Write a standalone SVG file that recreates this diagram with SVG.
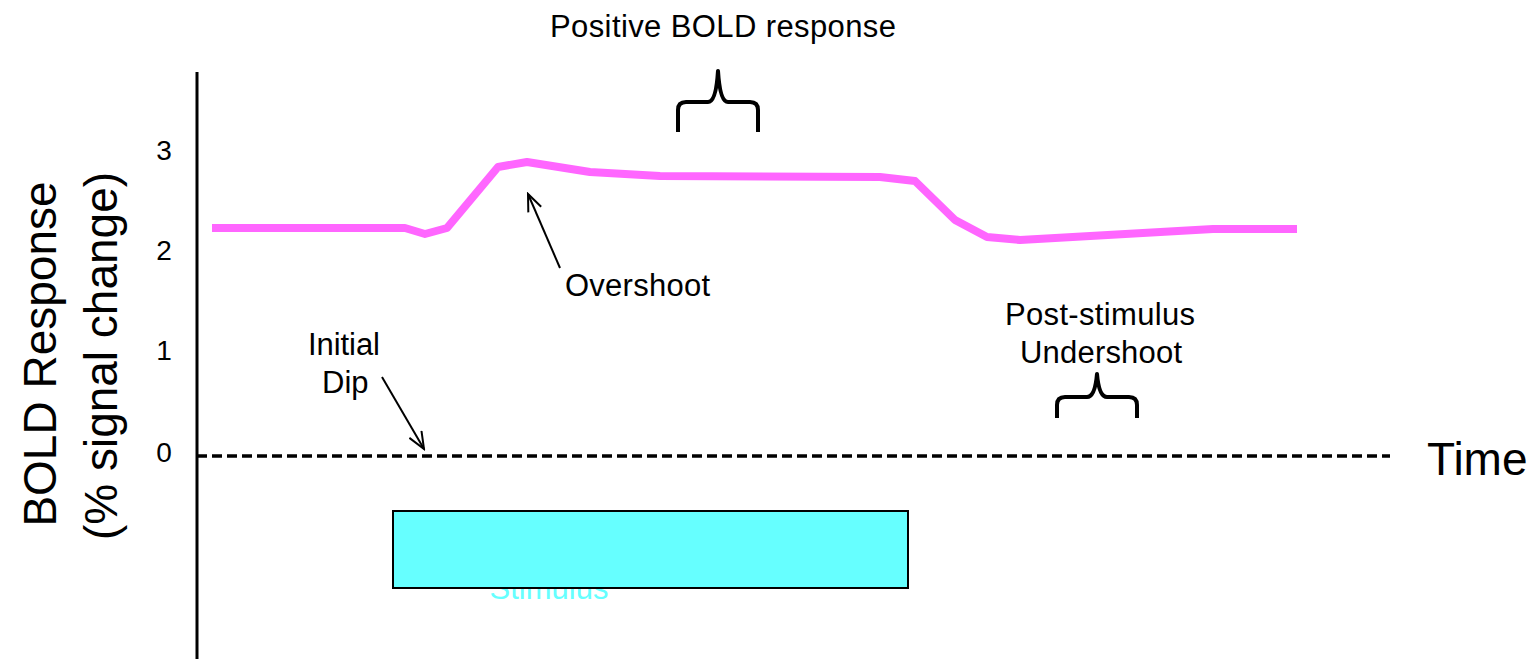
<svg xmlns="http://www.w3.org/2000/svg" width="1535" height="659" viewBox="0 0 1535 659">
  <style>
    text { font-family: "Liberation Sans", Arial, sans-serif; fill: #000; }
    .label { font-size: 31px; }
    .tick { font-size: 28px; text-anchor: middle; }
    .big { font-size: 46px; }
    .axis { stroke: #000; stroke-width: 3; fill: none; }
    .baseline { stroke: #000; stroke-width: 3.5; fill: none; stroke-dasharray: 10,5; }
    .brace { stroke: #000; stroke-width: 4; fill: none; stroke-linecap: butt; stroke-linejoin: round; }
    .pointer { stroke: #000; stroke-width: 2; fill: none; }
  </style>
  <defs>
    <marker id="openHead" markerUnits="userSpaceOnUse" viewBox="0 0 20 16" markerWidth="20" markerHeight="16" refX="18" refY="8" orient="auto">
      <path d="M1,1 L18,8 L1,15" fill="none" stroke="#000" stroke-width="2"/>
    </marker>
  </defs>
  <rect width="1535" height="659" fill="#fff"/>

  <!-- axes -->
  <g id="axes">
    <line class="axis" x1="197" y1="72" x2="197" y2="659"/>
    <line class="baseline" x1="197" y1="456" x2="1390" y2="456"/>
    <text class="tick" x="164" y="160">3</text>
    <text class="tick" x="164" y="260">2</text>
    <text class="tick" x="164" y="360">1</text>
    <text class="tick" x="164" y="462">0</text>
    <text class="big" x="1427" y="475">Time</text>
    <text class="big" text-anchor="middle" transform="translate(56,354) rotate(-90)">BOLD Response</text>
    <text class="big" text-anchor="middle" transform="translate(117,356) rotate(-90)">(% signal change)</text>
  </g>

  <!-- haemodynamic response curve -->
  <g id="bold-curve">
    <polyline fill="none" stroke="#FF66FF" stroke-width="8" stroke-linejoin="round"
      points="212,228 405,228 425,234 447,228 498,167 527,162 590,172 660,176 880,177 915,181 955,220 987,237 1020,240 1213,229 1297,229"/>
  </g>

  <!-- stimulus block -->
  <g id="stimulus">
    <text class="label" x="549" y="599" text-anchor="middle" style="fill:#66FFFF">Stimulus</text>
    <rect x="393" y="511" width="515" height="77" fill="#66FFFF" stroke="#000" stroke-width="2"/>
  </g>

  <!-- annotation labels -->
  <g id="positive-bold">
    <text class="label" x="550" y="37" textLength="346">Positive BOLD response</text>
    <path class="brace" d="M678,132 L678,110 Q678,102 686,102 L708,102 Q716,102 718,71 Q720,102 728,102 L750,102 Q758,102 758,110 L758,132"/>
  </g>

  <g id="overshoot">
    <text class="label" x="565" y="296" textLength="145">Overshoot</text>
  </g>

  <g id="initial-dip">
    <text class="label" x="308" y="355" textLength="72">Initial</text>
    <text class="label" x="322" y="393">Dip</text>
  </g>

  <g id="undershoot">
    <text class="label" x="1005" y="325" textLength="190">Post-stimulus</text>
    <text class="label" x="1020" y="363" textLength="162">Undershoot</text>
    <path class="brace" d="M1057,418 L1057,405 Q1057,397 1065,397 L1087,397 Q1095,397 1097,374 Q1099,397 1107,397 L1129,397 Q1137,397 1137,405 L1137,418"/>
  </g>

  <!-- pointer arrows -->
  <g id="connectors">
    <line class="pointer" x1="560" y1="268" x2="528" y2="194" marker-end="url(#openHead)"/>
    <line class="pointer" x1="382" y1="377" x2="424" y2="449" marker-end="url(#openHead)"/>
  </g>
</svg>
